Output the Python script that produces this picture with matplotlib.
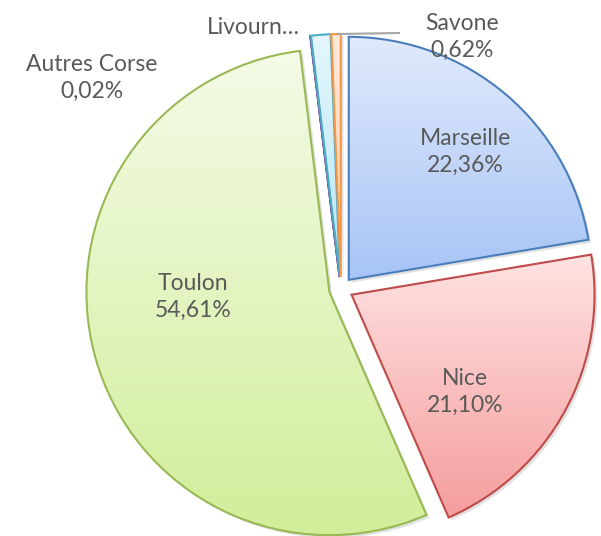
import numpy as np
import matplotlib
matplotlib.use('Agg')
import matplotlib.pyplot as plt
from matplotlib.patches import Shadow
from matplotlib.colors import to_rgb

# parts de trafic par port
ports = ['Marseille', 'Nice', 'Toulon', 'Autres Corse', 'Livourne', 'Savone']
parts = [22.36, 21.10, 54.61, 0.02, 1.29, 0.62]
etiquettes = ['Marseille\n22,36%', 'Nice\n21,10%', 'Toulon\n54,61%',
              'Autres Corse\n0,02%', 'Livourn\u2026', 'Savone\n0,62%']

bords = ['#4a7ebb', '#be4b48', '#98b954', '#7d60a0', '#4bacc6', '#f79646']
haut = ['#e0eafc', '#ffe3e3', '#f4fbe7', '#ece6f2', '#e4f6fc', '#feeadb']
bas = ['#a7c4f6', '#f59d9d', '#d2ee9a', '#cdbfe0', '#b8e7f5', '#fbcfa9']

W, H = 601, 536
plt.rcParams['font.family'] = ['Lato', 'DejaVu Sans']

fig = plt.figure(figsize=(W / 100, H / 100), dpi=100)
ax = fig.add_axes([0, 0, 1, 1])

# explode est en unites de donnees (pixels ici)
wedges, _ = ax.pie(parts, center=(341, H - 289), radius=243, startangle=90,
                   counterclock=False, explode=[12] * len(parts),
                   wedgeprops=dict(linewidth=1.5))

for w, b, c0, c1 in zip(wedges, bords, haut, bas):
    w.set_edgecolor(b)
    w.set_facecolor('none')
    w.set_zorder(3)
    ext = w.get_path().get_extents()
    sh = Shadow(w, 2, -2, facecolor='0.55', edgecolor='none', alpha=0.25)
    sh.set_zorder(1)
    ax.add_patch(sh)
    t = np.linspace(0, 1, 256)[:, None]
    grad = np.array(to_rgb(c1))[None, None, :] * (1 - t[..., None]) + \
        np.array(to_rgb(c0))[None, None, :] * t[..., None]
    grad = np.repeat(grad, 2, axis=1)
    im = ax.imshow(grad, extent=(ext.x0, ext.x1, ext.y0, ext.y1),
                   origin='lower', aspect='auto', zorder=2)
    im.set_clip_path(w)

pos = [(465, 152), (465, 392), (193, 297), (92, 78), (253, 28), (462, 37)]
for txt, (x, y) in zip(etiquettes, pos):
    ax.text(x, H - y, txt, ha='center', va='center', fontsize=16.5,
            color='#595959', linespacing=1.3, zorder=5)

# trait de rappel vers Savone
ax.plot([338, 399], [H - 34, H - 33], color='#a6a6a6', lw=1.5, zorder=4)

ax.set_xlim(0, W)
ax.set_ylim(0, H)
ax.set_aspect('equal')
ax.axis('off')
fig.savefig('out.png', dpi=100)
